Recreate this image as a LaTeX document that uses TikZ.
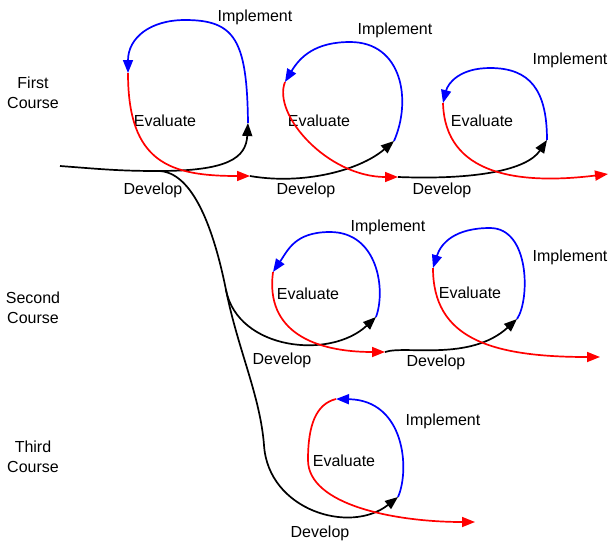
\documentclass[tikz,border=0pt]{standalone}
\usepackage{fontspec}
\setmainfont{Liberation Sans}
\usetikzlibrary{arrows.meta}
\tikzset{
    every node/.style={inner sep=0pt, align=center,
    	font=\fontsize{16}{20}\selectfont}
}
\tikzset{
    flow/.style={line width=1.7pt, -{Triangle[length=13pt,width=10pt]}}
}
\tikzset{
	develop/.style={flow, black},
	implement/.style={flow, blue},
	evaluate/.style={flow, red}
}

\begin{document}
\begin{tikzpicture}[x=1pt, y=-1pt]
  \useasboundingbox (0,0) rectangle (611,542);

  \node (c1) at (33,93) {First\\Course};
  \node (c2) at (33,308) {Second\\Course};
  \node (c3) at (33,457) {Third\\Course};

  \node (i1) at (255,17) {Implement};
  \node (e1) at (165,121) {Evaluate};
  \node (v1) at (153,190) {Develop};
  \node (i2) at (395,30) {Implement};
  \node (e2) at (319,121) {Evaluate};
  \node (v2) at (306,190) {Develop};
  \node (i3) at (570,60) {Implement};
  \node (e3) at (482,121) {Evaluate};
  \node (v3) at (442,190) {Develop};
  \node (i4) at (388,227) {Implement};
  \node (e4) at (308,294) {Evaluate};
  \node (v4) at (282,360) {Develop};
  \node (i5) at (570,257) {Implement};
  \node (e5) at (470,293) {Evaluate};
  \node (v5) at (436,362) {Develop};
  \node (i6) at (443,421) {Implement};
  \node (e6) at (344,461) {Evaluate};
  \node (v6) at (320,533) {Develop};

  \coordinate (s0) at (60,166);
  \coordinate (br) at (158,171);
  \coordinate (sp) at (226,290);
  \coordinate (lo) at (264,445);
  \coordinate (d1) at (248,123); \coordinate (t1) at (185,20);
  \coordinate (a1) at (128,73);  \coordinate (f1) at (250,176);
  \coordinate (d2) at (394,141); \coordinate (t2) at (350,42);
  \coordinate (a2) at (285,82);  \coordinate (f2) at (398,177);
  \coordinate (d3) at (547,140); \coordinate (t3) at (490,68);
  \coordinate (a3) at (443,103); \coordinate (f3) at (608,174);
  \coordinate (d4) at (376,317); \coordinate (t4) at (330,232);
  \coordinate (a4) at (273,272); \coordinate (f4) at (385,352);
  \coordinate (d5) at (517,319); \coordinate (t5) at (490,228);
  \coordinate (a5) at (433,268); \coordinate (f5) at (600,357);
  \coordinate (d6) at (398,497); \coordinate (m6) at (308,460);
  \coordinate (a6) at (336,399); \coordinate (f6) at (475,522);

  \draw[line width=1.7pt] (s0) .. controls +(40,3) and +(-40,0) .. (br);
  \draw[line width=1.7pt] (br) .. controls +(35,0) and +(-12,-60) .. (sp);
  \draw[develop] (br) .. controls +(70,0) and +(-2,35) .. (d1);
  \draw[develop] (f1) .. controls +(52,9) and +(-35,30) .. (d2);
  \draw[develop] (f2) .. controls +(78,3) and +(-20,30) .. (d3);
  \draw[develop] (sp) .. controls +(12,60) and +(-46,43) .. (d4);
  \draw[develop] (f4) .. controls +(20,-7) and +(-47,43) .. (d5);
  \draw[develop] (sp) .. controls +(12,60) and +(-4,-50) .. (lo)
    .. controls +(4,65) and +(-48,38) .. (d6);

  \draw[implement] (d1) .. controls +(-1,-83) and +(50,0) .. (t1)
    .. controls +(-35,0) and +(0,-35) .. (a1);
  \draw[implement] (d2) .. controls +(18,-41) and +(52,0) .. (t2)
    .. controls +(-35,0) and +(15,-25) .. (a2);
  \draw[implement] (d3) .. controls +(0,-50) and +(40,0) .. (t3)
    .. controls +(-30,0) and +(5,-20) .. (a3);
  \draw[implement] (d4) .. controls +(10,-27) and +(48,0) .. (t4)
    .. controls +(-35,0) and +(15,-22) .. (a4);
  \draw[implement] (d5) .. controls +(13,-19) and +(40,0) .. (t5)
    .. controls +(-35,0) and +(8,-25) .. (a5);
  \draw[implement] (d6) .. controls +(12,-27) and +(69,1) .. (a6);

  \draw[evaluate] (a1) .. controls +(0,90) and +(-80,0) .. (f1);
  \draw[evaluate] (a2) .. controls +(-13,33) and +(-70,0) .. (f2);
  \draw[evaluate] (a3) .. controls +(2,72) and +(-90,11) .. (f3);
  \draw[evaluate] (a4) .. controls +(-8,60) and +(-70,0) .. (f4);
  \draw[evaluate] (a5) .. controls +(0,70) and +(-110,0) .. (f5);
  \draw[evaluate] (a6) .. controls +(-20,5) and +(0,-35) .. (m6)
    .. controls +(0,45) and +(-80,0) .. (f6);
\end{tikzpicture}
\end{document}
